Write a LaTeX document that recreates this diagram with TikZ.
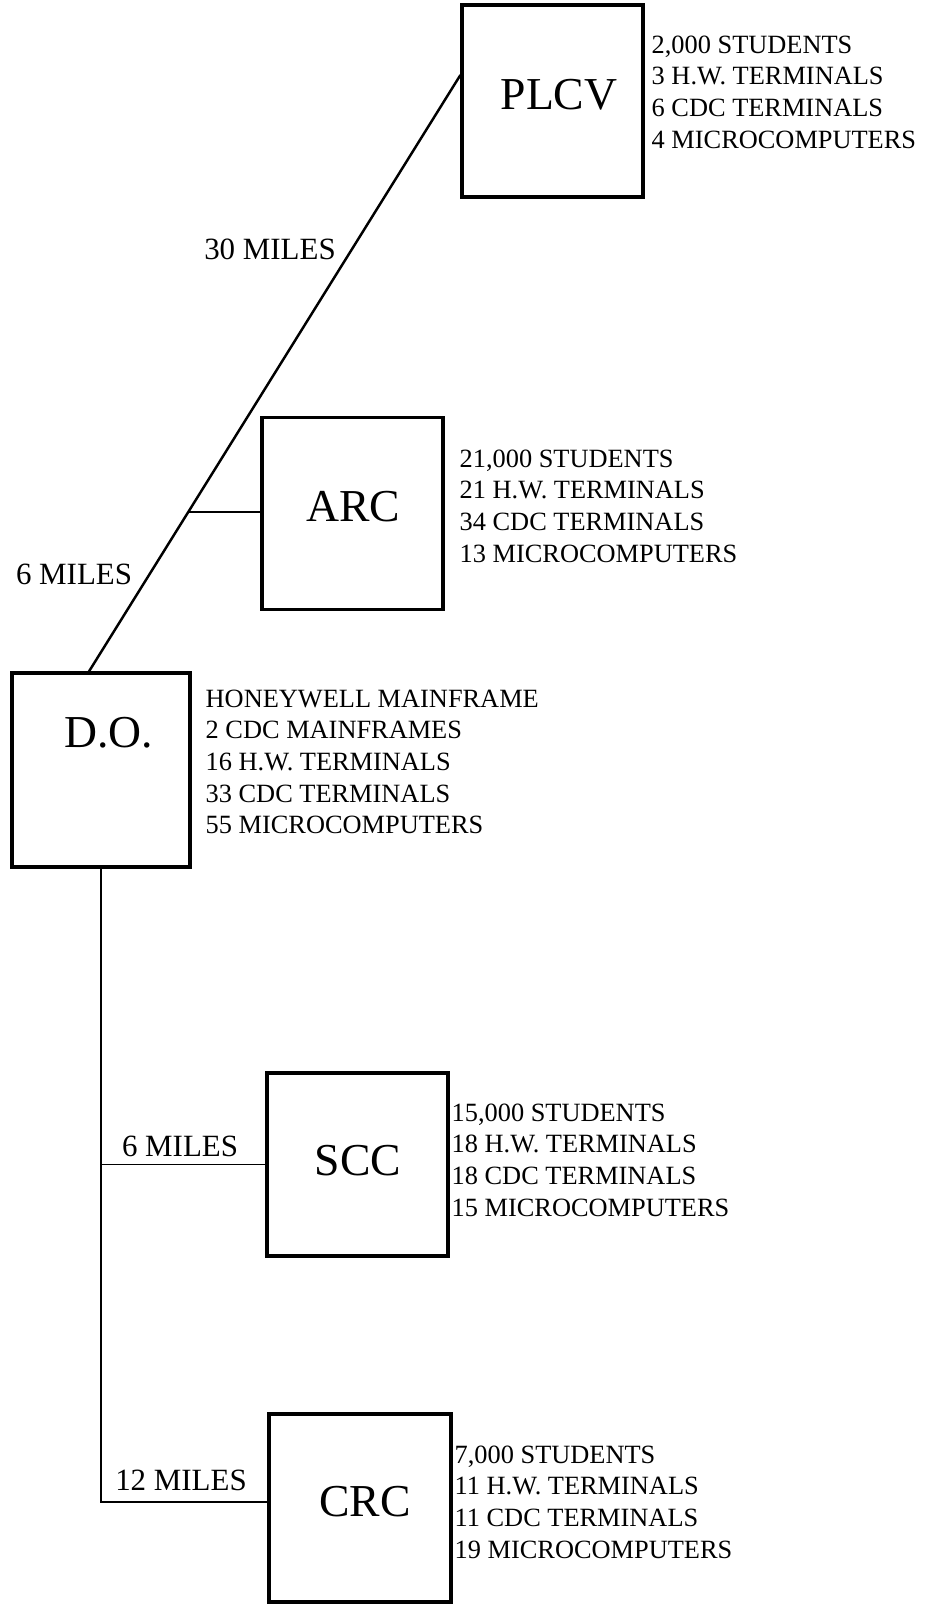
\documentclass[tikz,border=0pt]{standalone}
\usepackage{fontspec}
\setmainfont{Liberation Serif}
\usepackage{tikz}

\begin{document}
\begin{tikzpicture}[
 site/.style={draw,line width=0.9pt,minimum width=1.81cm,minimum height=1.92cm,inner sep=0pt},
 sitename/.style={font=\fontsize{13}{15}\selectfont},
 stock/.style={anchor=north west,align=left,inner sep=0pt,font=\fontsize{7.5}{9}\selectfont},
 miles/.style={font=\fontsize{8.8}{10}\selectfont}]
 \useasboundingbox (0,0) rectangle (9.30,-16.06);
 % the five sites
 \node[site] (plcv) at (5.525,-1.01) {};
 \node[site] (arc) at (3.525,-5.135) {};
 \node[site,minimum width=1.78cm,minimum height=1.94cm] (do) at (1.01,-7.70) {};
 \node[site,minimum height=1.83cm] (scc) at (3.575,-11.645) {};
 \node[site,minimum width=1.82cm,minimum height=1.88cm] (crc) at (3.60,-15.08) {};
 \node[sitename] (plcvname) at (5.59,-0.95) {PLCV};
 \node[sitename] (arcname) at (3.53,-5.07) {ARC};
 \node[sitename] (doname) at (1.09,-7.33) {D.O.};
 \node[sitename] (sccname) at (3.58,-11.61) {SCC};
 \node[sitename] (crcname) at (3.65,-15.02) {CRC};
 % links
 \draw[line width=0.7pt] ([xshift=-0.12cm]do.north) -- coordinate[pos=0.267] (tap) ([yshift=0.26cm]plcv.west);
 \draw[line width=0.45pt] (tap) -- (tap -| arc.west);
 \draw[line width=0.4pt] (do.south) |- ([yshift=0.06cm]crc.west);
 \draw[line width=0.45pt] (scc.west) -- (scc.west -| do.south);
 \node[miles] (far) at (2.70,-2.49) {30 MILES};
 \node[miles] (near) at (0.74,-5.74) {6 MILES};
 \node[miles] (sccmiles) at (1.80,-11.46) {6 MILES};
 \node[miles] (crcmiles) at (1.81,-14.80) {12 MILES};
 % equipment at each site
 \node[stock] (plcvstock) at (6.51,-0.35) {2,000 STUDENTS\\3 H.W. TERMINALS\\6 CDC TERMINALS\\4 MICROCOMPUTERS};
 \node[stock] (arcstock) at (4.59,-4.49) {21,000 STUDENTS\\21 H.W. TERMINALS\\34 CDC TERMINALS\\13 MICROCOMPUTERS};
 \node[stock] (dostock) at (2.05,-6.89) {HONEYWELL MAINFRAME\\2 CDC MAINFRAMES\\16 H.W. TERMINALS\\33 CDC TERMINALS\\55 MICROCOMPUTERS};
 \node[stock] (sccstock) at (4.51,-11.03) {15,000 STUDENTS\\18 H.W. TERMINALS\\18 CDC TERMINALS\\15 MICROCOMPUTERS};
 \node[stock] (crcstock) at (4.54,-14.45) {7,000 STUDENTS\\11 H.W. TERMINALS\\11 CDC TERMINALS\\19 MICROCOMPUTERS};
\end{tikzpicture}
\end{document}
